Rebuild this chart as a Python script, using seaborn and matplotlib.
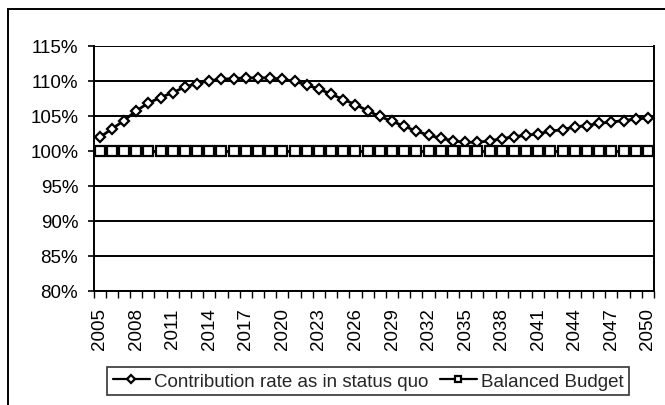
import numpy as np
import pandas as pd
import matplotlib
matplotlib.use("Agg")
import matplotlib.pyplot as plt
from matplotlib.patches import Rectangle
from matplotlib.ticker import FixedLocator, FuncFormatter
import seaborn as sns

years = list(range(2005, 2051))

status_quo = [
    101.9, 103.1, 104.3, 105.7, 106.8, 107.6, 108.3, 109.1, 109.6, 110.0,
    110.2, 110.3, 110.4, 110.4, 110.4, 110.2, 109.9, 109.4, 108.8, 108.1,
    107.3, 106.6, 105.7, 104.9, 104.2, 103.5, 102.8, 102.2, 101.8, 101.4,
    101.2, 101.2, 101.4, 101.7, 102.0, 102.2, 102.4, 102.8, 103.0, 103.4,
    103.6, 103.9, 104.1, 104.3, 104.5, 104.7,
]

balanced = [
    100, 100, 100, 100, 100, 100, 100, 100, 100, 100,
    100, 100, 100, 100, 100, 100, 100, 100, 100, 100,
    100, 100, 100, 100, 100, 100, 100, 100, 100, 100,
    100, 100, 100, 100, 100, 100, 100, 100, 100, 100,
    100, 100, 100, 100, 100, 100,
]

series_names = ["Contribution rate as in status quo", "Balanced Budget"]
y_ticks = [80, 85, 90, 95, 100, 105, 110, 115]
x_label_years = list(range(2005, 2051, 3))

df = pd.DataFrame({
    "year": years * 2,
    "value": status_quo + balanced,
    "series": [series_names[0]] * len(years) + [series_names[1]] * len(years),
})

sns.set_theme(style="white")
plt.rcParams["font.family"] = ["Liberation Sans", "DejaVu Sans"]

fig = plt.figure(figsize=(6.65, 4.06), dpi=100)
ax = fig.add_axes([93.5 / 665, 1 - 291.7 / 406, (654 - 93.5) / 665, (291.7 - 46.7) / 406])

# horizontal gridlines behind the data
for yv in y_ticks:
    ax.axhline(yv, color="black", lw=1.4, zorder=0)

sns.lineplot(
    data=df, x="year", y="value", hue="series", style="series",
    palette=["black", "black"], markers=["D", "s"], dashes=False,
    linewidth=2.0, markersize=5.0, markerfacecolor="white",
    markeredgecolor="black", markeredgewidth=1.6, ax=ax, legend=True,
    zorder=3,
)

# marker sizes per series
for line in ax.get_lines():
    if line.get_marker() == "s":
        line.set_markersize(6.5)

ax.set_xlim(2004.5, 2050.5)
ax.set_ylim(80, 115)

ax.xaxis.set_major_locator(FixedLocator(x_label_years))
ax.set_xticklabels([str(y) for y in x_label_years], rotation=90)
ax.xaxis.set_minor_locator(FixedLocator([y - 0.5 for y in years] + [years[-1] + 0.5]))
ax.tick_params(axis="x", which="major", length=0, pad=12, labelsize=13.5, colors="black")
ax.tick_params(axis="x", which="minor", length=5, width=1.0, direction="out",
               color="black", bottom=True)

ax.yaxis.set_major_locator(FixedLocator(y_ticks))
ax.yaxis.set_major_formatter(FuncFormatter(lambda v, _: f"{v:.0f}%"))
ax.tick_params(axis="y", which="major", length=4.3, width=1.2, direction="out",
               color="black", left=True, labelsize=13.5, pad=6.7, labelcolor="black")

ax.set_xlabel("")
ax.set_ylabel("")
for side in ["left", "right", "bottom"]:
    ax.spines[side].set_visible(True)
    ax.spines[side].set_color("black")
    ax.spines[side].set_linewidth(1.4)
ax.spines["top"].set_visible(False)

handles, labels = ax.get_legend_handles_labels()
ax.get_legend().remove()
for h in handles:
    h.set_linewidth(1.6)
    h.set_markersize(4.5)
leg = fig.legend(
    handles, labels, loc="center", bbox_to_anchor=(368 / 665, 1 - 382 / 406),
    ncol=2, frameon=True, fancybox=False, edgecolor="black", fontsize=13.5,
    handlelength=2.0, handletextpad=0.2, columnspacing=0.6, borderpad=0.3,
    borderaxespad=0,
)
leg.get_frame().set_linewidth(1.2)

# outer chart frame
fig.add_artist(Rectangle((7.5 / 665, -0.2), 1.2, 0.2 + (1 - 10 / 406),
                         transform=fig.transFigure, fill=False,
                         edgecolor="black", lw=1.4))

fig.savefig("out.png", dpi=100, facecolor="white")
